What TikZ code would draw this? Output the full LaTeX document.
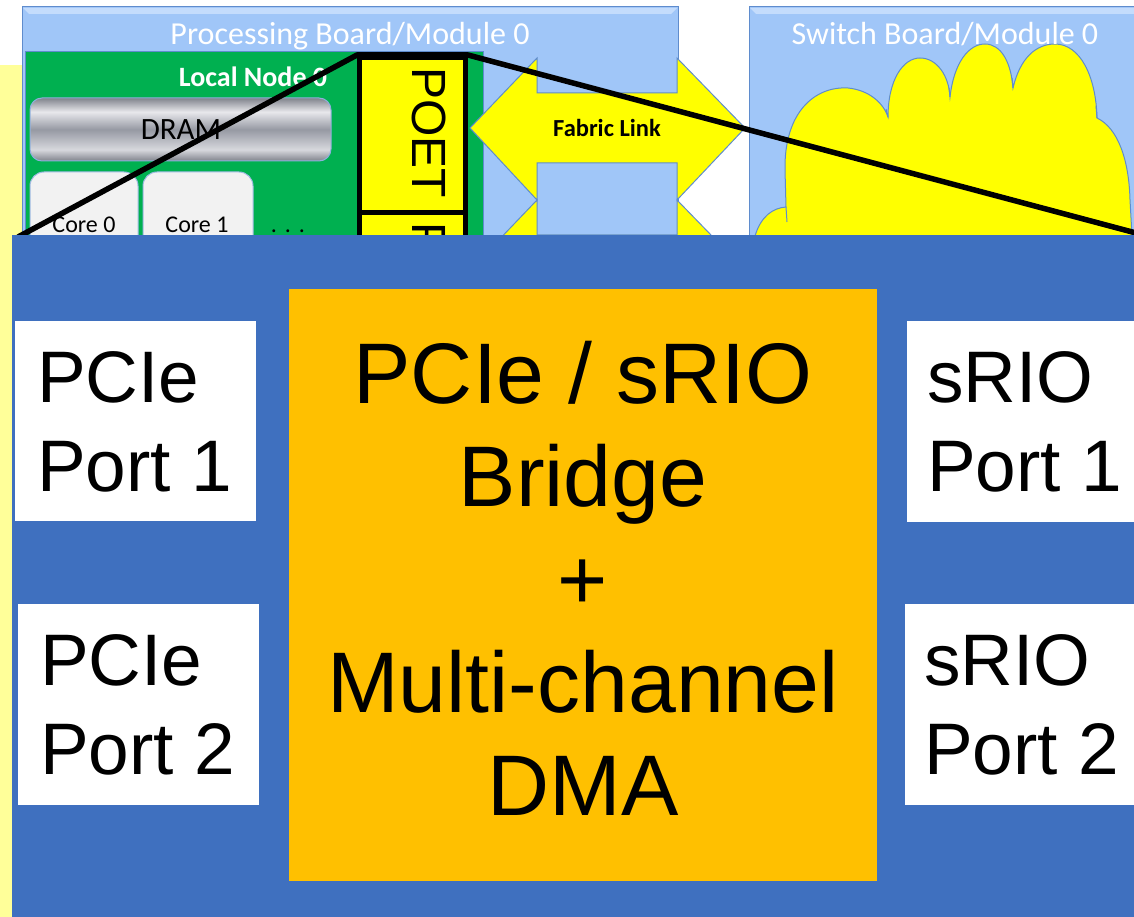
\documentclass[tikz,border=0pt]{standalone}
\usepackage{fontspec}
\setmainfont{Liberation Sans}
\newfontfamily\calib{Carlito}
\definecolor{paleyel}{RGB}{255,255,153}
\definecolor{boardblue}{RGB}{160,198,248}
\definecolor{boardlite}{RGB}{196,220,252}
\definecolor{boardedge}{RGB}{95,140,205}
\definecolor{nodegreen}{RGB}{0,176,80}
\definecolor{brightyel}{RGB}{255,255,0}
\definecolor{mainblue}{RGB}{63,112,191}
\definecolor{bridgeorange}{RGB}{255,192,0}
\definecolor{corefill}{RGB}{242,242,242}
\definecolor{dA}{RGB}{128,131,140}
\definecolor{dB}{RGB}{232,232,236}
\definecolor{dC}{RGB}{150,153,163}
\definecolor{dD}{RGB}{215,216,221}
\pgfdeclareverticalshading{dramshade}{100bp}{color(0bp)=(dA); color(25bp)=(dA); color(34bp)=(dD); color(50bp)=(dC); color(64bp)=(dB); color(75bp)=(dA); color(100bp)=(dA)}
\tikzset{
  board/.style={draw=boardedge, line width=1pt, fill=boardblue},
  boardtitle/.style={font={\calib\fontsize{32}{38}\selectfont}, text=white, inner sep=0pt, anchor=base},
  corebox/.style={draw=boardedge!60, line width=1pt, fill=corefill, rounded corners=14pt},
  coretext/.style={font={\calib\fontsize{24}{28}\selectfont}, inner sep=0pt, anchor=base},
  fabric/.style={draw=boardedge, line width=1pt, fill=brightyel, line join=miter},
  poetbox/.style={draw=black, line width=5pt, fill=brightyel, inner sep=0pt, minimum width=106pt},
  poettext/.style={font={\fontsize{48}{56}\selectfont}, rotate=-90, inner sep=0pt},
  zoomline/.style={draw=black, line width=5.5pt, line join=round},
  portbox/.style={fill=white, inner sep=0pt},
  porttext/.style={font={\fontsize{73}{89}\selectfont}, align=left, inner sep=0pt, anchor=north west},
  cloudline/.style={draw=boardedge, line width=1pt}
}
\begin{document}
\begin{tikzpicture}[x=1pt,y=-1pt]
\useasboundingbox (0,0) rectangle (1134,917);
% pale yellow background
\fill[paleyel] (0,65) rectangle (400,917);
% processing board
\draw[board] (22,7) rectangle (678,236);
\fill[boardlite] (23,8) -- (677,8) -- (671,14) -- (29,14) -- cycle;
% switch board
\draw[board] (749,7) rectangle (1140,236);
\fill[boardlite] (750,8) -- (1134,8) -- (1134,14) -- (756,14) -- cycle;
% cloud
\filldraw[fill=brightyel, cloudline]
  (755,236) .. controls (761,216) and (773,208) .. (786,207)
  -- (785,170) .. controls (784,112) and (815,86) .. (848,88)
  .. controls (868,90) and (883,102) .. (888,117)
  .. controls (888,80) and (903,58) .. (920,58)
  .. controls (937,58) and (949,76) .. (950,97)
  .. controls (954,62) and (969,44) .. (985,44)
  .. controls (1001,44) and (1011,62) .. (1013,88)
  .. controls (1020,58) and (1036,44) .. (1055,44)
  .. controls (1080,44) and (1096,76) .. (1097,118)
  .. controls (1118,128) and (1129,160) .. (1130,200)
  -- (1132,236) -- cycle;
\draw[cloudline] (786,207) -- (787,222);
\draw[cloudline] (888,117) -- (886,109);
\draw[cloudline] (950,97) -- (949,88);
\draw[cloudline] (1013,88) -- (1012,78);
\draw[cloudline] (1097,118) -- (1096,106);
% titles
\node[boardtitle] (ptitle) at (350,45) {Processing Board/Module 0};
\node[boardtitle] (stitle) at (945,45) {Switch Board/Module 0};
% local node
\draw[draw=boardedge, line width=1pt, fill=nodegreen] (25,52) rectangle (483,236);
\node[font={\calib\bfseries\fontsize{28}{32}\selectfont}, text=white, inner sep=0pt, anchor=base] (lnode) at (253,87) {Local Node 0};
\path[shading=dramshade, draw=boardedge!70, line width=1pt, rounded corners=12pt] (30,98) rectangle (331,161);
\node[font={\calib\fontsize{31}{36}\selectfont}, inner sep=0pt, anchor=base] (dram) at (181,140) {DRAM};
\draw[corebox] (30,172) rectangle (138,300);
\draw[corebox] (143,172) rectangle (253,300);
\node[coretext] (core0) at (84,233) {Core 0};
\node[coretext] (core1) at (197,233) {Core 1};
\node[coretext] (dots) at (288,233) {.\,\,.\,\,.};
% fabric links
\draw[fabric] (470,128) -- (537,58) -- (537,93) -- (677,93) -- (677,58) -- (745,128)
  -- (677,200) -- (677,163) -- (537,163) -- (537,200) -- cycle;
\node[font={\calib\bfseries\fontsize{24.5}{28}\selectfont}, inner sep=0pt, anchor=base] (flink) at (607,137) {Fabric Link};
\draw[fabric] (470,270) -- (537,200) -- (537,235) -- (677,235) -- (677,200) -- (745,270)
  -- (677,342) -- (677,305) -- (537,305) -- (537,342) -- cycle;
% POET chips
\node[poetbox, minimum height=155pt] (poet1) at (412.5,135) {};
\node[poetbox, minimum height=155pt] (poet2) at (412.5,290) {};
\node[poettext] (poettxt1) at (429.5,132.5) {POET};
\begin{scope}
\clip (0,0) rectangle (1134,235);
\node[poettext] (poettxt2) at (429.5,287.5) {POET};
\end{scope}
% zoom lines
\coordinate (zoomL) at (18,237);
\coordinate (zoomR) at (1136,233);
\draw[zoomline] (zoomL) -- (poet1.north west) -- (poet1.north east) -- (zoomR);
% enlarged chip
\fill[mainblue] (12,235) rectangle (1134,917);
\fill[bridgeorange] (289,289) rectangle (877,881);
\node[font={\fontsize{86}{103}\selectfont}, align=center, inner sep=0pt] (bridge) at (583,578)
  {PCIe / sRIO\\Bridge\\+\\Multi-channel\\DMA};
\fill[portbox] (15,321) rectangle (256,521);
\fill[portbox] (18,604) rectangle (259,805);
\fill[portbox] (907,321) rectangle (1134,522);
\fill[portbox] (905,604) rectangle (1134,805);
\node[porttext] (pcie1) at (37,351) {PCIe\\Port 1};
\node[porttext] (pcie2) at (40,634) {PCIe\\Port 2};
\node[porttext] (srio1) at (927,351) {sRIO\\Port 1};
\node[porttext] (srio2) at (924,634) {sRIO\\Port 2};
\end{tikzpicture}
\end{document}
